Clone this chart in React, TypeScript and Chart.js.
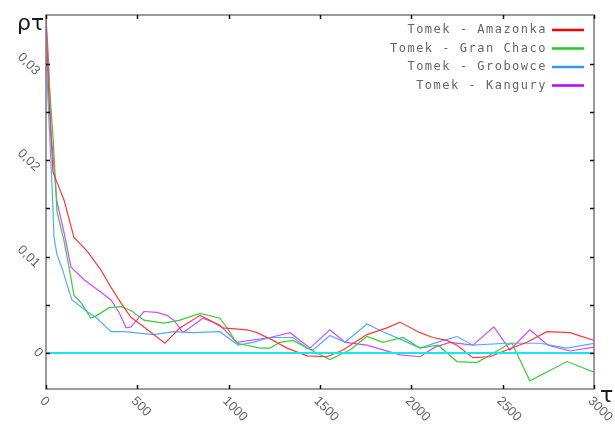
import React, { useEffect, useRef } from "react";
import { Chart, registerables } from "chart.js";

Chart.register(...registerables);

// Autocorrelation rho(tau) for four runs
const amazonkaTau = [0, 15, 38, 100, 153, 224, 301, 356, 410, 465, 536, 651, 733, 843, 898, 969, 1100, 1155, 1243, 1319, 1429, 1538, 1626, 1757, 1866, 1938, 2047, 2118, 2195, 2250, 2337, 2430, 2523, 2633, 2742, 2868, 3000];
const amazonkaRho = [0.0345, 0.027, 0.0188, 0.0158, 0.012, 0.0106, 0.0086, 0.0068, 0.0052, 0.0037, 0.0027, 0.001, 0.0026, 0.0039, 0.0034, 0.0026, 0.0024, 0.0021, 0.0013, 0.0005, -0.0003, -0.0004, 0.0003, 0.0019, 0.0026, 0.0032, 0.0021, 0.0016, 0.0013, 0.0008, -0.0005, -0.0004, 0.0003, 0.0011, 0.0022, 0.0021, 0.0013];

const granChacoTau = [0, 11, 25, 40, 60, 99, 126, 153, 192, 246, 279, 345, 410, 465, 536, 646, 733, 843, 952, 991, 1045, 1171, 1226, 1281, 1352, 1429, 1554, 1664, 1757, 1845, 1954, 2047, 2146, 2250, 2359, 2523, 2551, 2649, 2852, 3000];
const granChacoRho = [0.0335, 0.03, 0.026, 0.022, 0.0147, 0.0116, 0.0089, 0.006, 0.0052, 0.0036, 0.0039, 0.0047, 0.0048, 0.0044, 0.0034, 0.0031, 0.0034, 0.0041, 0.0036, 0.0026, 0.001, 0.0005, 0.0005, 0.0011, 0.0013, 0.0005, -0.0007, 0.0003, 0.0017, 0.0011, 0.0016, 0.0005, 0.0008, -0.0009, -0.001, 0.0008, 0.001, -0.0029, -0.0009, -0.002];

const grobowceTau = [0, 16, 33, 44, 60, 88, 115, 142, 192, 224, 279, 356, 427, 591, 700, 805, 952, 1051, 1133, 1226, 1352, 1429, 1461, 1554, 1637, 1757, 1845, 1954, 2047, 2157, 2250, 2337, 2523, 2704, 2852, 3000];
const grobowceRho = [0.031, 0.0242, 0.0174, 0.012, 0.0102, 0.0088, 0.0071, 0.0055, 0.0048, 0.0043, 0.0036, 0.0022, 0.0022, 0.0019, 0.0022, 0.0021, 0.0022, 0.0008, 0.0011, 0.0016, 0.0016, 0.0005, 0.0003, 0.0018, 0.0011, 0.003, 0.0022, 0.0013, 0.0005, 0.0012, 0.0017, 0.0008, 0.001, 0.001, 0.0005, 0.001];

const kanguryTau = [0, 15, 27, 60, 99, 137, 208, 301, 356, 400, 438, 465, 536, 608, 662, 700, 750, 859, 952, 1045, 1226, 1336, 1445, 1554, 1637, 1757, 1938, 2047, 2129, 2211, 2337, 2452, 2540, 2649, 2748, 2868, 3000];
const kanguryRho = [0.035, 0.03, 0.023, 0.0157, 0.0125, 0.0089, 0.0076, 0.0063, 0.0055, 0.0042, 0.0026, 0.0027, 0.0043, 0.0042, 0.0039, 0.0034, 0.0021, 0.0036, 0.0029, 0.0011, 0.0016, 0.0021, 0.0005, 0.0024, 0.0011, 0.0008, -0.0002, -0.0004, 0.0006, 0.0011, 0.0008, 0.0027, 0.0003, 0.0024, 0.0008, 0.0002, 0.0006];

const seriesNames = ["Tomek - Amazonka", "Tomek - Gran Chaco", "Tomek - Grobowce", "Tomek - Kangury"];
const lineColors = ["#ff3a3a", "#3ccc3c", "#55aaff", "#cc4cff"];
const legendColors = ["#ff0000", "#22cc22", "#3399ff", "#bb00ff"];

const xTicks = [0, 500, 1000, 1500, 2000, 2500, 3000];
const xTickLabels = ["0", "500", "1000", "1500", "2000", "2500", "3000"];
const yTicks = [0, 0.005, 0.01, 0.015, 0.02, 0.025, 0.03];
const yLabelValues = [0, 0.01, 0.02, 0.03];
const yLabels = ["0", "0,01", "0,02", "0,03"];
const xRange = [0, 3000];
const yRange = [-0.00375, 0.0351];

const toPoints = (xs: number[], ys: number[]) => xs.map((x, i) => ({ x, y: ys[i] }));

const decorations = {
  id: "decorations",
  afterDraw(chart: any) {
    const { ctx, chartArea: a, scales } = chart;
    const xs = scales.x;
    const ys = scales.y;
    ctx.save();

    // frame
    ctx.strokeStyle = "#7a7a7a";
    ctx.lineWidth = 1.5;
    ctx.strokeRect(a.left, a.top, a.right - a.left, a.bottom - a.top);

    // inward ticks on all four sides
    ctx.strokeStyle = "#111";
    ctx.lineWidth = 1.5;
    ctx.beginPath();
    xTicks.forEach((v) => {
      const px = Math.round(xs.getPixelForValue(v)) + 0.5;
      ctx.moveTo(px, a.bottom);
      ctx.lineTo(px, a.bottom - 4);
      ctx.moveTo(px, a.top);
      ctx.lineTo(px, a.top + 4);
    });
    yTicks.forEach((v) => {
      const py = Math.round(ys.getPixelForValue(v)) + 0.5;
      ctx.moveTo(a.left, py);
      ctx.lineTo(a.left + 4, py);
      ctx.moveTo(a.right, py);
      ctx.lineTo(a.right - 4, py);
    });
    ctx.stroke();

    // tick labels, rotated 45 degrees clockwise
    ctx.fillStyle = "#666";
    ctx.font = "13px 'Liberation Sans', Arial, sans-serif";
    ctx.textBaseline = "middle";
    yLabelValues.forEach((v, i) => {
      const py = ys.getPixelForValue(v);
      const w = ctx.measureText(yLabels[i]).width;
      const cx = a.left - 4 - 0.53 * w;
      ctx.save();
      ctx.translate(cx, py);
      ctx.rotate(Math.PI / 4);
      ctx.textAlign = "center";
      ctx.fillText(yLabels[i], 0, 0);
      ctx.restore();
    });
    xTicks.forEach((v, i) => {
      const px = xs.getPixelForValue(v);
      ctx.save();
      ctx.translate(px - 4, a.bottom + 10);
      ctx.rotate(Math.PI / 4);
      ctx.textAlign = "left";
      ctx.fillText(xTickLabels[i], 0, 0);
      ctx.restore();
    });

    // axis titles
    ctx.fillStyle = "#1a1a1a";
    ctx.font = "22px 'DejaVu Sans', sans-serif";
    ctx.textAlign = "left";
    ctx.textBaseline = "alphabetic";
    ctx.fillText("ρτ", 17, 30);
    ctx.fillText("τ", a.right + 6, a.bottom + 13);

    // legend: right-aligned text followed by a line sample
    ctx.font = "12px 'DejaVu Sans Mono', monospace";
    (ctx as any).letterSpacing = "1.5px";
    ctx.textAlign = "right";
    ctx.textBaseline = "middle";
    const rowY = [30, 48.5, 67, 85.5];
    seriesNames.forEach((name, i) => {
      ctx.fillStyle = "#666";
      ctx.fillText(name, 547, rowY[i]);
      ctx.strokeStyle = legendColors[i];
      ctx.lineWidth = 2.5;
      ctx.beginPath();
      ctx.moveTo(552, rowY[i]);
      ctx.lineTo(584, rowY[i]);
      ctx.stroke();
    });
    (ctx as any).letterSpacing = "0px";
    ctx.restore();
  },
};

export default function App() {
  const canvasRef = useRef<HTMLCanvasElement | null>(null);

  useEffect(() => {
    if (!canvasRef.current) return;
    const series = [
      toPoints(amazonkaTau, amazonkaRho),
      toPoints(granChacoTau, granChacoRho),
      toPoints(grobowceTau, grobowceRho),
      toPoints(kanguryTau, kanguryRho),
    ];
    const chart = new Chart(canvasRef.current, {
      type: "line",
      data: {
        datasets: [
          {
            label: "zero",
            data: [
              { x: xRange[0], y: 0 },
              { x: xRange[1], y: 0 },
            ],
            borderColor: "#19e6ec",
            borderWidth: 2,
            pointRadius: 0,
          },
          ...series.map((pts, i) => ({
            label: seriesNames[i],
            data: pts,
            borderColor: lineColors[i],
            borderWidth: 1.2,
            pointRadius: 0,
            tension: 0,
          })),
        ],
      },
      options: {
        animation: false,
        responsive: false,
        layout: { padding: { left: 46, top: 15, right: 21, bottom: 41 } },
        plugins: { legend: { display: false }, tooltip: { enabled: false } },
        scales: {
          x: { type: "linear", min: xRange[0], max: xRange[1], display: false },
          y: { type: "linear", min: yRange[0], max: yRange[1], display: false },
        },
      },
      plugins: [decorations],
    });
    return () => chart.destroy();
  }, []);

  return (
    <div style={{ position: "absolute", left: 0, top: 0, width: 615, height: 430, background: "#fff" }}>
      <canvas ref={canvasRef} width={615} height={430} style={{ display: "block" }} />
    </div>
  );
}
